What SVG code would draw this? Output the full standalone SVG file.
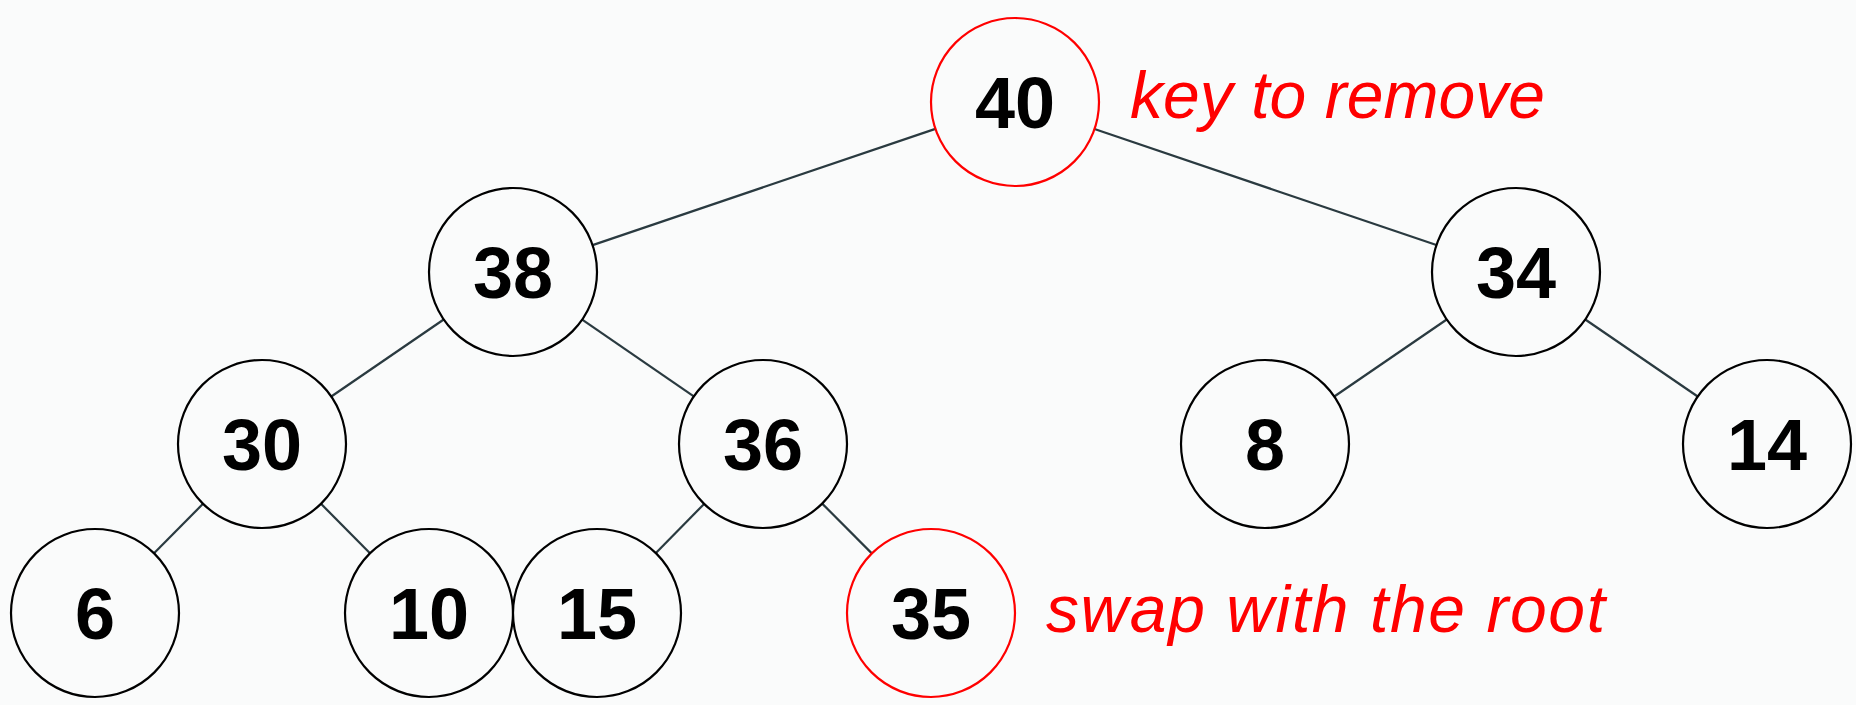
<svg xmlns="http://www.w3.org/2000/svg" width="1856" height="705" viewBox="0 0 1856 705">
<style>
.bg{fill:#fafbfb}
.n circle{fill:#fafbfb;stroke:#000;stroke-width:2.2}
.n.hl circle{stroke:#ff0000}
.n text{font-family:"Liberation Sans",Arial,sans-serif;font-weight:bold;font-size:72px;fill:#000;text-anchor:middle}
#edges line{stroke:#2a3a40;stroke-width:2.2}
.note{font-family:"Liberation Sans",Arial,sans-serif;font-style:italic;font-size:66px;fill:#ff0000}
</style>
<rect class="bg" x="0" y="0" width="1856" height="705"/>
<g id="edges">
<line x1="935.4" y1="128.9" x2="592.6" y2="245.1"/>
<line x1="1094.5" y1="129" x2="1436.4" y2="245"/>
<line x1="443.7" y1="319.5" x2="331.3" y2="396.5"/>
<line x1="582.2" y1="319.6" x2="693.8" y2="396.4"/>
<line x1="1446.7" y1="319.5" x2="1334.3" y2="396.5"/>
<line x1="1585.3" y1="319.5" x2="1697.7" y2="396.5"/>
<line x1="203" y1="503.8" x2="154" y2="553.3"/>
<line x1="321" y1="503.8" x2="370" y2="553.3"/>
<line x1="704.1" y1="503.9" x2="655.9" y2="553.1"/>
<line x1="822.2" y1="503.6" x2="871.8" y2="553.4"/>
</g>
<g id="n40" class="n hl"><circle cx="1015" cy="102" r="84"/><text x="1015" y="128">40</text></g>
<g id="n38" class="n"><circle cx="513" cy="272" r="84"/><text x="513" y="298">38</text></g>
<g id="n34" class="n"><circle cx="1516" cy="272" r="84"/><text x="1516" y="298">34</text></g>
<g id="n30" class="n"><circle cx="262" cy="444" r="84"/><text x="262" y="470">30</text></g>
<g id="n36" class="n"><circle cx="763" cy="444" r="84"/><text x="763" y="470">36</text></g>
<g id="n8" class="n"><circle cx="1265" cy="444" r="84"/><text x="1265" y="470">8</text></g>
<g id="n14" class="n"><circle cx="1767" cy="444" r="84"/><text x="1767" y="470">14</text></g>
<g id="n6" class="n"><circle cx="95" cy="613" r="84"/><text x="95" y="639">6</text></g>
<g id="n10" class="n"><circle cx="429" cy="613" r="84"/><text x="429" y="639">10</text></g>
<g id="n15" class="n"><circle cx="597" cy="613" r="84"/><text x="597" y="639">15</text></g>
<g id="n35" class="n hl"><circle cx="931" cy="613" r="84"/><text x="931" y="639">35</text></g>
<g id="labels">
<text class="note" x="1130" y="118" textLength="415">key to remove</text>
<text class="note" x="1046" y="632" textLength="559">swap with the root</text>
</g>
</svg>
